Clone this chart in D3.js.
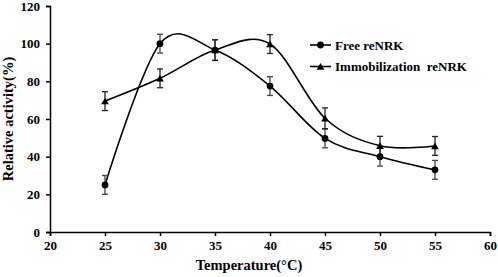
<!DOCTYPE html>
<html>
<head>
<meta charset="utf-8">
<script src="https://cdn.jsdelivr.net/npm/d3@7"></script>
<style>
  body { margin: 0; background: #fff; }
  text { font-family: "Liberation Serif", "Times New Roman", serif; font-weight: bold; fill: #000; }
</style>
</head>
<body>
<div id="chart"></div>
<script>
var temps = [25, 30, 35, 40, 45, 50, 55];
var freeVals = [25, 100, 96.6, 77.5, 49.7, 40, 33];
var freeErr = [5, 5, 5.5, 5, 5, 5, 5];
var immobVals = [69.5, 81.6, 96.6, 99.8, 60.4, 45.8, 45.7];
var immobErr = [5, 5, 5.5, 5, 5.5, 5, 5];
var xTicks = [20, 25, 30, 35, 40, 45, 50, 55, 60];
var yTicks = [0, 20, 40, 60, 80, 100, 120];
var seriesNames = ["Free reNRK", "Immobilization  reNRK"];

var width = 498, height = 277;
var margin = {top: 6, right: 8, bottom: 45, left: 50};

var svg = d3.select("#chart").append("svg")
    .attr("width", width)
    .attr("height", height);

var x = d3.scaleLinear().domain([20, 60]).range([margin.left, 490]);
var y = d3.scaleLinear().domain([0, 120]).range([232, margin.top]);

// axes
var xAxis = d3.axisBottom(x).tickValues(xTicks).tickSize(4).tickPadding(5);
var yAxis = d3.axisLeft(y).tickValues(yTicks).tickSize(4).tickPadding(6);

svg.append("g")
    .attr("transform", "translate(0," + y(0) + ")")
    .call(xAxis)
    .call(function(g) {
      g.select(".domain").attr("stroke-width", 1.5);
      g.selectAll(".tick line").attr("stroke-width", 1.5);
      g.selectAll(".tick text").style("font-size", "13px");
    });

svg.append("g")
    .attr("transform", "translate(" + x(20) + ",0)")
    .call(yAxis)
    .call(function(g) {
      g.select(".domain").attr("stroke-width", 1.5);
      g.selectAll(".tick line").attr("stroke-width", 1.5);
      g.selectAll(".tick text").style("font-size", "13px");
    });

// axis titles
svg.append("text")
    .attr("x", 249)
    .attr("y", 270)
    .attr("text-anchor", "middle")
    .style("font-size", "14.5px")
    .text("Temperature(°C)");

svg.append("text")
    .attr("transform", "translate(13,119) rotate(-90)")
    .attr("text-anchor", "middle")
    .style("font-size", "14.5px")
    .text("Relative activity(%)");

var line = d3.line()
    .x(function(d) { return x(d.t); })
    .y(function(d) { return y(d.v); })
    .curve(d3.curveCardinal.tension(0));

function makeData(vals, errs) {
  return temps.map(function(t, i) { return {t: t, v: vals[i], e: errs[i]}; });
}
var freeData = makeData(freeVals, freeErr);
var immobData = makeData(immobVals, immobErr);

function drawSeries(data, errColor) {
  svg.append("path")
      .datum(data)
      .attr("fill", "none")
      .attr("stroke", "#000")
      .attr("stroke-width", 1.6)
      .attr("d", line);

  var eb = svg.append("g").attr("stroke", errColor).attr("stroke-width", 1.3);
  eb.selectAll(".v").data(data).enter().append("line")
      .attr("x1", function(d) { return x(d.t); })
      .attr("x2", function(d) { return x(d.t); })
      .attr("y1", function(d) { return y(d.v + d.e); })
      .attr("y2", function(d) { return y(d.v - d.e); });
  eb.selectAll(".top").data(data).enter().append("line")
      .attr("x1", function(d) { return x(d.t) - 3; })
      .attr("x2", function(d) { return x(d.t) + 3; })
      .attr("y1", function(d) { return y(d.v + d.e); })
      .attr("y2", function(d) { return y(d.v + d.e); });
  eb.selectAll(".bot").data(data).enter().append("line")
      .attr("x1", function(d) { return x(d.t) - 3; })
      .attr("x2", function(d) { return x(d.t) + 3; })
      .attr("y1", function(d) { return y(d.v - d.e); })
      .attr("y2", function(d) { return y(d.v - d.e); });
}

drawSeries(freeData, "#444");
drawSeries(immobData, "#222");

var circleSym = d3.symbol().type(d3.symbolCircle).size(36);
var triSym = d3.symbol().type(d3.symbolTriangle).size(26);

svg.selectAll(".free-pt").data(freeData).enter().append("path")
    .attr("d", circleSym)
    .attr("transform", function(d) { return "translate(" + x(d.t) + "," + y(d.v) + ")"; })
    .attr("fill", "#000");

svg.selectAll(".imm-pt").data(immobData).enter().append("path")
    .attr("d", triSym)
    .attr("transform", function(d) { return "translate(" + x(d.t) + "," + (y(d.v) + 1) + ")"; })
    .attr("fill", "#000");

// legend
var legend = svg.append("g");
[circleSym, triSym].forEach(function(sym, i) {
  var ly = 45 + i * 21.5;
  legend.append("line")
      .attr("x1", 310).attr("x2", 331)
      .attr("y1", ly).attr("y2", ly)
      .attr("stroke", "#000").attr("stroke-width", 1.6);
  legend.append("path")
      .attr("d", sym)
      .attr("transform", "translate(320.5," + (ly + (i ? 1 : 0)) + ")")
      .attr("fill", "#000");
  legend.append("text")
      .attr("x", 335)
      .attr("y", ly + 4.5)
      .attr("xml:space", "preserve")
      .style("white-space", "pre")
      .style("font-size", "13px")
      .text(seriesNames[i]);
});
</script>
</body>
</html>
